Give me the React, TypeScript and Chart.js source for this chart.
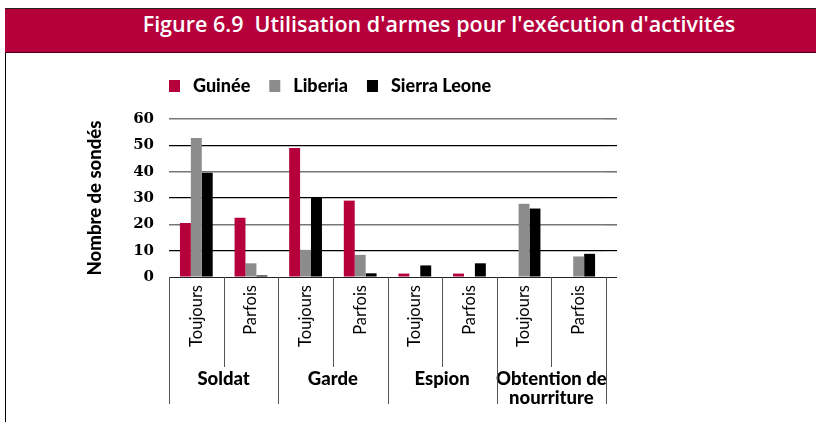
import React, { useEffect, useRef } from 'react';
import { Chart, registerables } from 'chart.js';

Chart.register(...registerables);

const categories = ['Toujours', 'Parfois', 'Toujours', 'Parfois', 'Toujours', 'Parfois', 'Toujours', 'Parfois'];
const groups: (string | string[])[] = ['Soldat', 'Garde', 'Espion', ['Obtention de', 'nourriture']];
const seriesNames = ['Guinée', 'Liberia', 'Sierra Leone'];
const guinee = [20.5, 22.5, 49, 29, 1.3, 1.3, 0, 0];
const liberia = [52.8, 5.2, 10.3, 8.4, 0, 0, 27.8, 7.8];
const sierraLeone = [39.6, 0.6, 30.4, 1.4, 4.4, 5.2, 26, 8.8];
const seriesColors = ['#b5003c', '#8c8c8c', '#000000'];
const yMin = 0;
const yMax = 60;
const yStep = 10;

const TITLE = "Figure 6.9\u00a0\u00a0Utilisation d'armes pour l'exécution d'activités";

const gridColor = (ctx: any) => {
  const v = ctx.tick ? ctx.tick.value : 0;
  if (v === 0) return '#222';
  return v % 20 === 0 ? '#777' : '#000';
};
const gridWidth = (ctx: any) => {
  const v = ctx.tick ? ctx.tick.value : 0;
  if (v === 0) return 1;
  return v % 20 === 0 ? 1.6 : 1.2;
};

const decorPlugin = {
  id: 'decor',
  afterDraw(chart: any) {
    const { ctx, chartArea, scales } = chart;
    const x = scales.x;
    const n = categories.length;
    const step = x.getPixelForValue(1) - x.getPixelForValue(0);
    ctx.save();
    // category separators below the axis
    ctx.strokeStyle = '#555';
    ctx.lineWidth = 1;
    for (let i = 0; i <= n; i++) {
      const px = x.getPixelForValue(0) - step / 2 + i * step;
      const len = i % 2 === 0 ? 127 : 90;
      const xx = Math.round(px) + 0.5;
      ctx.beginPath();
      ctx.moveTo(xx, chartArea.bottom);
      ctx.lineTo(xx, chartArea.bottom + len);
      ctx.stroke();
    }
    // legend
    ctx.font = '900 18px Lato, "Open Sans", sans-serif';
    ctx.textBaseline = 'alphabetic';
    ctx.textAlign = 'left';
    let lx = chartArea.left;
    const baseY = chartArea.top - 27;
    chart.data.datasets.forEach((ds: any) => {
      ctx.fillStyle = ds.backgroundColor;
      ctx.fillRect(lx, baseY - 12, 11, 12);
      ctx.fillStyle = '#000';
      ctx.fillText(ds.label, lx + 24, baseY);
      lx += 24 + ctx.measureText(ds.label).width + 19;
    });
    ctx.restore();
  },
};

function ChartView() {
  const ref = useRef<HTMLCanvasElement>(null);
  useEffect(() => {
    if (!ref.current) return;
    const chart = new Chart(ref.current, {
      type: 'bar',
      data: {
        labels: categories,
        datasets: [
          { label: seriesNames[0], data: guinee, backgroundColor: seriesColors[0] },
          { label: seriesNames[1], data: liberia, backgroundColor: seriesColors[1] },
          { label: seriesNames[2], data: sierraLeone, backgroundColor: seriesColors[2] },
        ],
      },
      options: {
        responsive: false,
        animation: false,
        datasets: { bar: { categoryPercentage: 0.6, barPercentage: 1.0, borderWidth: 0 } },
        layout: { padding: { left: 78, right: 199, top: 66, bottom: 0 } },
        plugins: { legend: { display: false }, tooltip: { enabled: false } },
        scales: {
          x: {
            type: 'category',
            position: 'bottom',
            grid: { display: false, drawTicks: false },
            border: { display: false },
            ticks: {
              autoSkip: false,
              maxRotation: 90,
              minRotation: 90,
              padding: 8,
              color: '#000',
              font: { family: 'Lato, "Open Sans", sans-serif', size: 16.5 },
            },
            afterFit: (s: any) => { s.height = 71; },
          },
          x2: {
            type: 'category',
            labels: groups as any,
            position: 'bottom',
            offset: true,
            grid: { display: false, drawTicks: false },
            border: { display: false },
            ticks: {
              autoSkip: false,
              maxRotation: 0,
              minRotation: 0,
              padding: 22,
              color: '#000',
              font: { family: 'Lato, "Open Sans", sans-serif', size: 18.5, weight: '900', lineHeight: '19px' },
            },
            afterFit: (s: any) => { s.height = 74; },
          },
          y: {
            min: yMin,
            max: yMax,
            ticks: {
              stepSize: yStep,
              padding: 15,
              color: '#000',
              font: { family: '"DejaVu Serif", serif', size: 15, weight: 'bold' },
            },
            grid: { color: gridColor, lineWidth: gridWidth, drawTicks: false },
            border: { display: false },
            title: {
              display: true,
              text: 'Nombre de sondés',
              color: '#000',
              font: { family: 'Lato, "Open Sans", sans-serif', size: 18.5, weight: '900' },
              padding: { top: 0, bottom: 0 },
            },
            afterFit: (s: any) => { s.width = 85; },
          },
          y2: {
            position: 'right',
            min: yMin,
            max: yMax,
            ticks: { display: false, stepSize: yStep },
            grid: { drawOnChartArea: false, drawTicks: true, tickLength: 11, color: gridColor, lineWidth: gridWidth },
            border: { display: false },
            afterFit: (s: any) => { s.width = 11; },
          },
        },
      } as any,
      plugins: [decorPlugin],
    });
    return () => chart.destroy();
  }, []);
  return <canvas ref={ref} width={810} height={369} style={{ display: 'block', width: 810, height: 369 }} />;
}

export default function App() {
  return (
    <div style={{ position: 'absolute', left: 0, top: 0, width: 816, height: 422, overflow: 'hidden', background: '#fff' }}>
      <div
        style={{
          position: 'absolute',
          left: 5,
          top: 8,
          width: 811,
          height: 414,
          borderLeft: '1px solid #000',
          boxSizing: 'border-box',
        }}
      >
        <div
          style={{
            position: 'absolute',
            left: -1,
            top: 0,
            width: 812,
            height: 45,
            boxSizing: 'border-box',
            background: '#b5003c',
            borderTop: '1px solid #222',
            borderBottom: '1px solid #4a0016',
            color: '#fff',
            fontFamily: '"Open Sans", sans-serif',
            fontWeight: 600,
            fontSize: 21.5,
            lineHeight: '28px',
            paddingTop: 1,
            paddingLeft: 56,
            textAlign: 'center',
            whiteSpace: 'nowrap',
          }}
        >
          {TITLE}
        </div>
        <div style={{ position: 'absolute', left: 0, top: 45 }}>
          <ChartView />
        </div>
      </div>
    </div>
  );
}
